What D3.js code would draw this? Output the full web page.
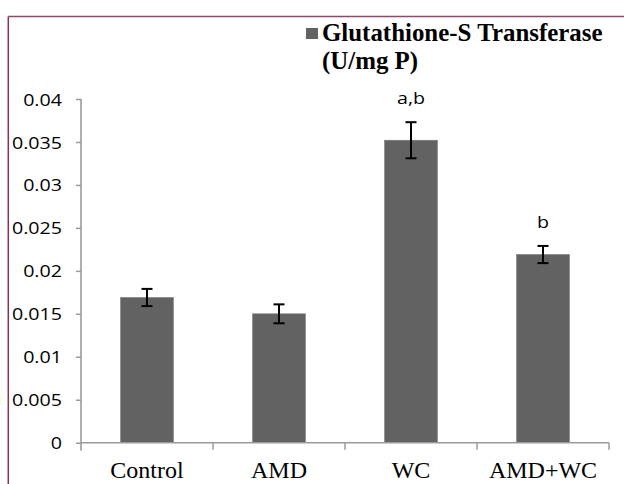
<!DOCTYPE html>
<html><head><meta charset="utf-8">
<script src="https://cdn.jsdelivr.net/npm/d3@7"></script>
<style>
html,body{margin:0;padding:0;background:#fff;}
svg{display:block;}
</style></head>
<body>
<svg id="chart" width="624" height="484"></svg>
<script>
const categories = ["Control", "AMD", "WC", "AMD+WC"];
const values = [0.0169, 0.0150, 0.0352, 0.0219];
const errors = [0.0010, 0.0011, 0.0021, 0.0010];
const sigLabels = ["", "", "a,b", "b"];
const yTicks = [0, 0.005, 0.01, 0.015, 0.02, 0.025, 0.03, 0.035, 0.04];
const legendLines = ["Glutathione-S Transferase", "(U/mg P)"];

const svg = d3.select("#chart");
const x0 = 81, x1 = 609, yTop = 99, yBot = 442.7;

// frame border (top & left)
svg.append("line").attr("x1", 8.3).attr("x2", 624).attr("y1", 16.5).attr("y2", 16.5)
  .attr("stroke", "#94466a").attr("stroke-width", 1.5);
svg.append("line").attr("x1", 8.3).attr("x2", 8.3).attr("y1", 16.5).attr("y2", 484)
  .attr("stroke", "#8a2f55").attr("stroke-width", 1.5);

const x = d3.scaleBand().domain(categories).range([x0, x1]).paddingInner(0.6).paddingOuter(0.3);
const y = d3.scaleLinear().domain([0, 0.04]).range([yBot, yTop]);

// bars
svg.append("g").selectAll("rect").data(values).join("rect")
  .attr("x", (d, i) => x(categories[i]))
  .attr("y", d => y(d))
  .attr("width", x.bandwidth())
  .attr("height", d => y(0) - y(d))
  .attr("fill", "#626262")
  .attr("stroke", "#7a7a7a").attr("stroke-width", 0.6);

// y axis
const yAxis = svg.append("g").attr("transform", `translate(${x0},0)`)
  .call(d3.axisLeft(y).tickValues(yTicks).tickSize(5).tickPadding(0).tickFormat(d => String(+d.toFixed(3))));
yAxis.select(".domain").attr("stroke", "#9b9b9b").attr("stroke-width", 1.6)
  .attr("d", `M0,${yTop}V${yBot + 8}`);
yAxis.selectAll(".tick line").attr("stroke", "#9b9b9b").attr("stroke-width", 1.5);
yAxis.selectAll(".tick text")
  .attr("x", 0)
  .attr("dy", "0.36em")
  .attr("transform", "translate(-19,0) scale(1.17,1)")
  .attr("fill", "#000")
  .style("font-family", "'Open Sans', sans-serif")
  .style("font-size", "16.8px");

// x axis
const xAxis = svg.append("g").attr("transform", `translate(0,${yBot})`)
  .call(d3.axisBottom(x).tickSize(0).tickFormat(""));
xAxis.select(".domain").attr("stroke", "#9b9b9b").attr("stroke-width", 1.6)
  .attr("d", `M${x0},0H${x1}`);
const step = x.step();
const boundaries = categories.map((c, i) => x0 + step * (i + 1));
xAxis.append("g").selectAll("line").data(boundaries).join("line")
  .attr("x1", d => d).attr("x2", d => d).attr("y1", 0).attr("y2", 7)
  .attr("stroke", "#9b9b9b").attr("stroke-width", 1.5);
svg.append("g").selectAll("text").data(categories).join("text")
  .attr("x", d => x(d) + x.bandwidth() / 2)
  .attr("y", 478)
  .attr("text-anchor", "middle")
  .style("font-family", "'Liberation Serif', 'Times New Roman', serif")
  .style("font-size", "24px")
  .attr("fill", "#000")
  .text(d => d);

// error bars
const eg = svg.append("g").attr("stroke", "#000").attr("stroke-width", 2);
values.forEach((v, i) => {
  const cx = x(categories[i]) + x.bandwidth() / 2;
  const e = errors[i];
  eg.append("line").attr("x1", cx).attr("x2", cx).attr("y1", y(v + e)).attr("y2", y(v - e));
  eg.append("line").attr("x1", cx - 5.5).attr("x2", cx + 5.5).attr("y1", y(v + e)).attr("y2", y(v + e));
  eg.append("line").attr("x1", cx - 5.5).attr("x2", cx + 5.5).attr("y1", y(v - e)).attr("y2", y(v - e));
});

// significance labels
svg.append("g").selectAll("text").data(sigLabels).join("text")
  .attr("transform", (d, i) => {
    const cx = x(categories[i]) + x.bandwidth() / 2;
    return `translate(${cx},${y(values[i] + errors[i]) - 18}) scale(1.17,1)`;
  })
  .attr("text-anchor", "middle")
  .style("font-family", "'Open Sans', sans-serif")
  .style("font-size", "16.8px")
  .attr("fill", "#000")
  .text(d => d);

// legend
const lg = svg.append("g");
lg.append("rect").attr("x", 306).attr("y", 28).attr("width", 12).attr("height", 11).attr("fill", "#626262");
lg.selectAll("text").data(legendLines).join("text")
  .attr("x", 322)
  .attr("y", (d, i) => 41 + i * 28)
  .style("font-family", "'Liberation Serif', 'Times New Roman', serif")
  .style("font-weight", "bold")
  .style("font-size", "24.9px")
  .attr("fill", "#000")
  .text(d => d);
</script>
</body></html>
